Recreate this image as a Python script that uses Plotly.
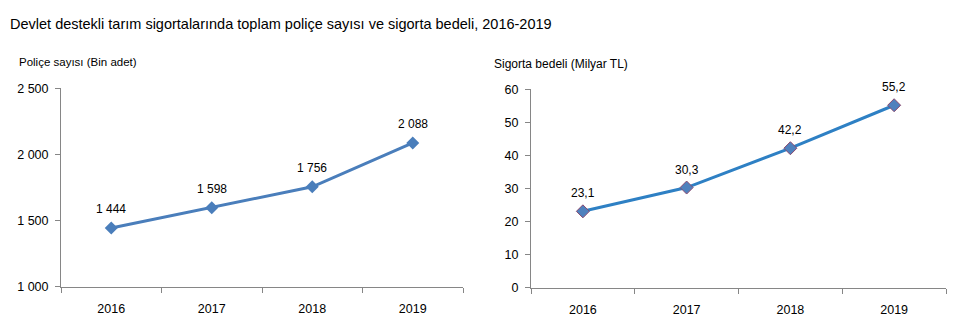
import plotly.graph_objects as go

years = ["2016", "2017", "2018", "2019"]
police_count = [1444, 1598, 1756, 2088]          # Bin adet
insured_value = [23.1, 30.3, 42.2, 55.2]          # Milyar TL

left_ticks = [1000, 1500, 2000, 2500]
right_ticks = [0, 10, 20, 30, 40, 50, 60]

FONT = "Liberation Sans, Arial, sans-serif"
AXIS_GRAY = "#868686"


def fmt_thousands(v):
    return f"{v:,}".replace(",", " ")


def fmt_decimal(v):
    return f"{v:.1f}".replace(".", ",")


fig = go.Figure()

fig.add_trace(go.Scatter(
    x=years, y=police_count, xaxis="x", yaxis="y",
    mode="lines+markers",
    line=dict(color="#4a7ebb", width=3),
    marker=dict(symbol="diamond", size=10, color="#4a7ebb"),
    hoverinfo="skip", showlegend=False,
))

fig.add_trace(go.Scatter(
    x=years, y=insured_value, xaxis="x2", yaxis="y2",
    mode="lines+markers",
    line=dict(color="#2e80c4", width=3),
    marker=dict(symbol="diamond", size=10, color="#4f81bd",
                line=dict(color="#8a4a70", width=1)),
    hoverinfo="skip", showlegend=False,
))

# value labels above each point (category index used as x position)
annotations = []
for i, v in enumerate(police_count):
    annotations.append(dict(x=i, y=v, xref="x", yref="y", text=fmt_thousands(v),
                            showarrow=False, yshift=19,
                            font=dict(family=FONT, size=12, color="#000")))
for i, v in enumerate(insured_value):
    annotations.append(dict(x=i, y=v, xref="x2", yref="y2", text=fmt_decimal(v),
                            showarrow=False, yshift=18,
                            font=dict(family=FONT, size=12, color="#000")))

annotations += [
    dict(text="Devlet destekli tarım sigortalarında toplam poliçe sayısı ve sigorta bedeli, 2016-2019",
         x=8 / 965, y=1 - 18 / 333, xref="paper", yref="paper",
         xanchor="left", yanchor="middle", showarrow=False,
         font=dict(family=FONT, size=14.5, color="#000")),
    dict(text="Poliçe sayısı (Bin adet)",
         x=17 / 965, y=1 - 57 / 333, xref="paper", yref="paper",
         xanchor="left", yanchor="middle", showarrow=False,
         font=dict(family=FONT, size=11.5, color="#000")),
    dict(text="Sigorta bedeli (Milyar TL)",
         x=492 / 965, y=1 - 59 / 333, xref="paper", yref="paper",
         xanchor="left", yanchor="middle", showarrow=False,
         font=dict(family=FONT, size=12, color="#000")),
]

xaxis_common = dict(
    type="category", range=[-0.5, 3.5], showgrid=False, zeroline=False,
    showline=True, linecolor=AXIS_GRAY, linewidth=1,
    ticks="outside", tickson="boundaries", ticklen=5, tickcolor=AXIS_GRAY,
    ticklabelstandoff=10,
    tickfont=dict(family=FONT, size=12.5, color="#000"),
    fixedrange=True,
)
yaxis_common = dict(
    showgrid=False, zeroline=False,
    showline=True, linecolor=AXIS_GRAY, linewidth=1,
    ticks="outside", ticklen=5, tickcolor=AXIS_GRAY,
    ticklabelstandoff=4,
    tickfont=dict(family=FONT, size=12.5, color="#000"),
    fixedrange=True,
)

fig.update_layout(
    width=965, height=333,
    margin=dict(l=0, r=0, t=0, b=0),
    paper_bgcolor="white", plot_bgcolor="white",
    xaxis=dict(domain=[61 / 965, 463 / 965], anchor="y", **xaxis_common),
    yaxis=dict(domain=[1 - 292 / 333, 1 - 85 / 333], anchor="x",
               range=[left_ticks[0], left_ticks[-1]],
               tickvals=left_ticks, ticktext=[fmt_thousands(t) for t in left_ticks],
               **yaxis_common),
    xaxis2=dict(domain=[531 / 965, 946 / 965], anchor="y2", **xaxis_common),
    yaxis2=dict(domain=[1 - 293 / 333, 1 - 86 / 333], anchor="x2",
                range=[right_ticks[0], right_ticks[-1]],
                tickvals=right_ticks, ticktext=[str(t) for t in right_ticks],
                **yaxis_common),
    annotations=annotations,
)

fig.write_html("out.html")
